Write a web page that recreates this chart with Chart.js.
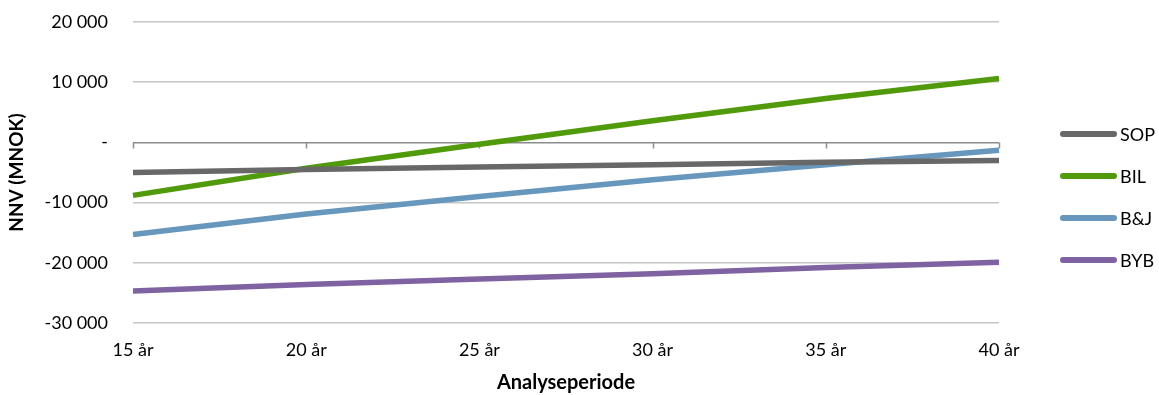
<!DOCTYPE html>
<html>
<head>
<meta charset="utf-8">
<script src="https://cdn.jsdelivr.net/npm/chart.js@4.4.1/dist/chart.umd.min.js"></script>
<style>
  html, body { margin: 0; padding: 0; background: #fff; }
  #wrap { position: relative; width: 1159px; height: 395px; }
  #c { position: absolute; left: 0; top: 0; }
  #legend { position: absolute; left: 1060px; top: 122px; font-family: Lato, "Open Sans", sans-serif; font-size: 18px; color: #000; }
  .item { display: flex; align-items: center; height: 42px; margin-top: -9px; margin-bottom: 9px; }
  .sw { width: 57px; height: 6px; border-radius: 3px; margin-right: 3px; }
</style>
</head>
<body>
<div id="wrap">
  <canvas id="c" width="1159" height="395"></canvas>
  <div id="legend"></div>
</div>
<script>
const categories = ["15 år", "20 år", "25 år", "30 år", "35 år", "40 år"];
const seriesNames = ["SOP", "BIL", "B&J", "BYB"];
const sop = [-5000, -4500, -4100, -3700, -3300, -3000];
const bil = [-8800, -4300, -300, 3600, 7300, 10600];
const bj  = [-15300, -11900, -9000, -6200, -3700, -1300];
const byb = [-24700, -23600, -22700, -21800, -20800, -19900];
const yTicks = [20000, 10000, 0, -10000, -20000, -30000];
const colors = ["#686868", "#519a0c", "#6797bc", "#7f62a1"];

const FONT = 'Lato, "Open Sans", sans-serif';

function fmt(v) {
  if (v === 0) return "-";
  const s = Math.abs(v).toString().replace(/\B(?=(\d{3})+(?!\d))/g, " ");
  return (v < 0 ? "-" : "") + s;
}

const zeroTicks = {
  id: 'zeroTicks',
  beforeDatasetsDraw(chart) {
    const x = chart.scales.x, y = chart.scales.y;
    const y0 = y.getPixelForValue(0);
    const ctx = chart.ctx;
    ctx.save();
    ctx.strokeStyle = '#8c8c8c';
    ctx.lineWidth = 1.5;
    ctx.beginPath();
    for (let i = 0; i < categories.length; i++) {
      const px = Math.round(x.getPixelForTick(i)) + 0.5;
      ctx.moveTo(px, y0);
      ctx.lineTo(px, y0 + 6);
    }
    ctx.stroke();
    ctx.restore();
  }
};

const allData = [sop, bil, bj, byb];
const chart = new Chart(document.getElementById('c'), {
  type: 'line',
  data: {
    labels: categories,
    datasets: seriesNames.map((n, i) => ({
      label: n,
      data: allData[i],
      borderColor: colors[i],
      backgroundColor: colors[i],
      borderWidth: 5.5,
      pointRadius: 0,
      tension: 0,
      borderCapStyle: 'butt'
    }))
  },
  options: {
    responsive: false,
    animation: false,
    layout: { padding: { left: 0, right: 160, top: 22, bottom: 0 } },
    plugins: { legend: { display: false }, tooltip: { enabled: false } },
    scales: {
      x: {
        offset: false,
        grid: { display: false, drawTicks: false },
        border: { display: false },
        ticks: { color: '#000', font: { family: FONT, size: 18 }, padding: 16, maxRotation: 0 },
        title: { display: true, text: 'Analyseperiode', color: '#000', font: { family: FONT, size: 20, weight: 'bold' }, padding: { top: 4, bottom: 0 } },
        afterFit(s) { s.height = 72; }
      },
      y: {
        min: -30000, max: 20000,
        afterBuildTicks(s) { s.ticks = yTicks.map(v => ({ value: v })); },
        grid: {
          drawTicks: false,
          color: c => (c.tick && c.tick.value === 0) ? '#8c8c8c' : '#c6c6c6',
          lineWidth: 1.5
        },
        border: { display: false },
        ticks: { color: '#000', font: { family: FONT, size: 18 }, padding: 25, callback: v => fmt(v) },
        title: { display: true, text: 'NNV (MNOK)', color: '#000', font: { family: FONT, size: 19, weight: 'bold' }, padding: { top: 5, bottom: 0 } },
        afterFit(s) { s.width = 133; s.paddingTop = 0; s.paddingBottom = 0; }
      }
    }
  },
  plugins: [zeroTicks]
});

const leg = document.getElementById('legend');
chart.data.datasets.forEach(ds => {
  const it = document.createElement('div');
  it.className = 'item';
  const sw = document.createElement('span');
  sw.className = 'sw';
  sw.style.background = ds.borderColor;
  const tx = document.createElement('span');
  tx.textContent = ds.label;
  it.appendChild(sw); it.appendChild(tx);
  leg.appendChild(it);
});
</script>
</body>
</html>
